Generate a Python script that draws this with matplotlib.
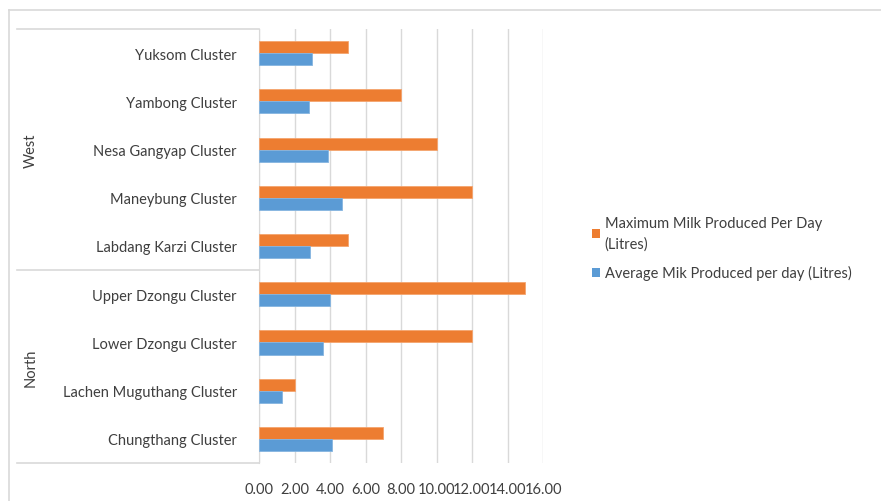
import matplotlib
matplotlib.use("Agg")
import matplotlib.pyplot as plt
from matplotlib.lines import Line2D
from matplotlib.patches import Patch
import numpy as np

plt.rcParams['font.family'] = ['Lato', 'DejaVu Sans']

# Clusters listed bottom to top
clusters = ["Chungthang Cluster", "Lachen Muguthang Cluster", "Lower Dzongu Cluster",
            "Upper Dzongu Cluster", "Labdang Karzi Cluster", "Maneybung Cluster",
            "Nesa Gangyap Cluster", "Yambong Cluster", "Yuksom Cluster"]
regions = ["North", "West"]
region_sizes = [4, 5]
max_milk = [7, 2, 12, 15, 5, 12, 10, 8, 5]
avg_milk = [4.1, 1.3, 3.6, 4.0, 2.9, 4.7, 3.9, 2.8, 3.0]
xticks = [0, 2, 4, 6, 8, 10, 12, 14, 16]
series_names = ["Maximum Milk Produced Per Day\n(Litres)",
                "Average Mik Produced per day (Litres)"]

W, H = 881, 502
fig = plt.figure(figsize=(W / 100, H / 100), dpi=100)

ax_l, ax_r, ax_t, ax_b = 259, 543, 30, 464
ax = fig.add_axes([ax_l / W, 1 - ax_b / H, (ax_r - ax_l) / W, (ax_b - ax_t) / H])

txt_col = "#3F3F3F"
fs = 10.5
orange = "#ED7D31"
blue = "#5B9BD5"
y = np.arange(len(clusters))
h = 0.25
ax.barh(y + h / 2, max_milk, height=h, color=orange, edgecolor="#F4A46E", linewidth=0.6, zorder=3)
ax.barh(y - h / 2, avg_milk, height=h, color=blue, edgecolor="#85B5E0", linewidth=0.6, zorder=3)

ax.set_xlim(0, 16)
ax.set_ylim(-0.5, len(clusters) - 0.5)
ax.set_xticks(xticks)
ax.set_xticklabels([f"{v:.2f}" for v in xticks], fontsize=fs, color=txt_col)
ax.set_yticks(y)
ax.set_yticklabels(clusters, fontsize=fs, color=txt_col)
ax.tick_params(axis="y", length=0, pad=16)
ax.tick_params(axis="x", length=0, pad=14)
ax.grid(axis="x", color="#D9D9D9", linewidth=1, zorder=0)
for s in ["top", "right", "bottom"]:
    ax.spines[s].set_visible(False)
ax.spines["left"].set_color("#D9D9D9")

# Outer chart frame
frame_col = "#D9D9D9"
fig.add_artist(Line2D([9 / W, 9 / W], [0, 1 - 11 / H], transform=fig.transFigure, color=frame_col, lw=1.2))
fig.add_artist(Line2D([9 / W, 1], [1 - 11 / H, 1 - 11 / H], transform=fig.transFigure, color=frame_col, lw=1.2))

# Region group dividers and labels
row_px = (ax_b - ax_t) / len(clusters)
bounds = [ax_b]
for n in region_sizes:
    bounds.append(bounds[-1] - n * row_px)
for yb in bounds:
    fig.add_artist(Line2D([17 / W, ax_l / W], [1 - yb / H, 1 - yb / H],
                          transform=fig.transFigure, color=frame_col, lw=1.2))
for i, name in enumerate(regions):
    yc = (bounds[i] + bounds[i + 1]) / 2
    fig.text(31 / W, 1 - yc / H, name, rotation=90, ha="center", va="center",
             fontsize=fs, color=txt_col)

handles = [Patch(facecolor=orange), Patch(facecolor=blue)]
leg = fig.legend(handles, series_names, loc="center left", bbox_to_anchor=(579 / W, 1 - 249 / H),
                 frameon=False, fontsize=fs, handlelength=0.55, handleheight=0.55,
                 handletextpad=0.3, labelspacing=1.0, labelcolor=txt_col)
for t in leg.get_texts():
    t.set_linespacing(1.6)

fig.savefig("out.png", dpi=100, facecolor="white")
